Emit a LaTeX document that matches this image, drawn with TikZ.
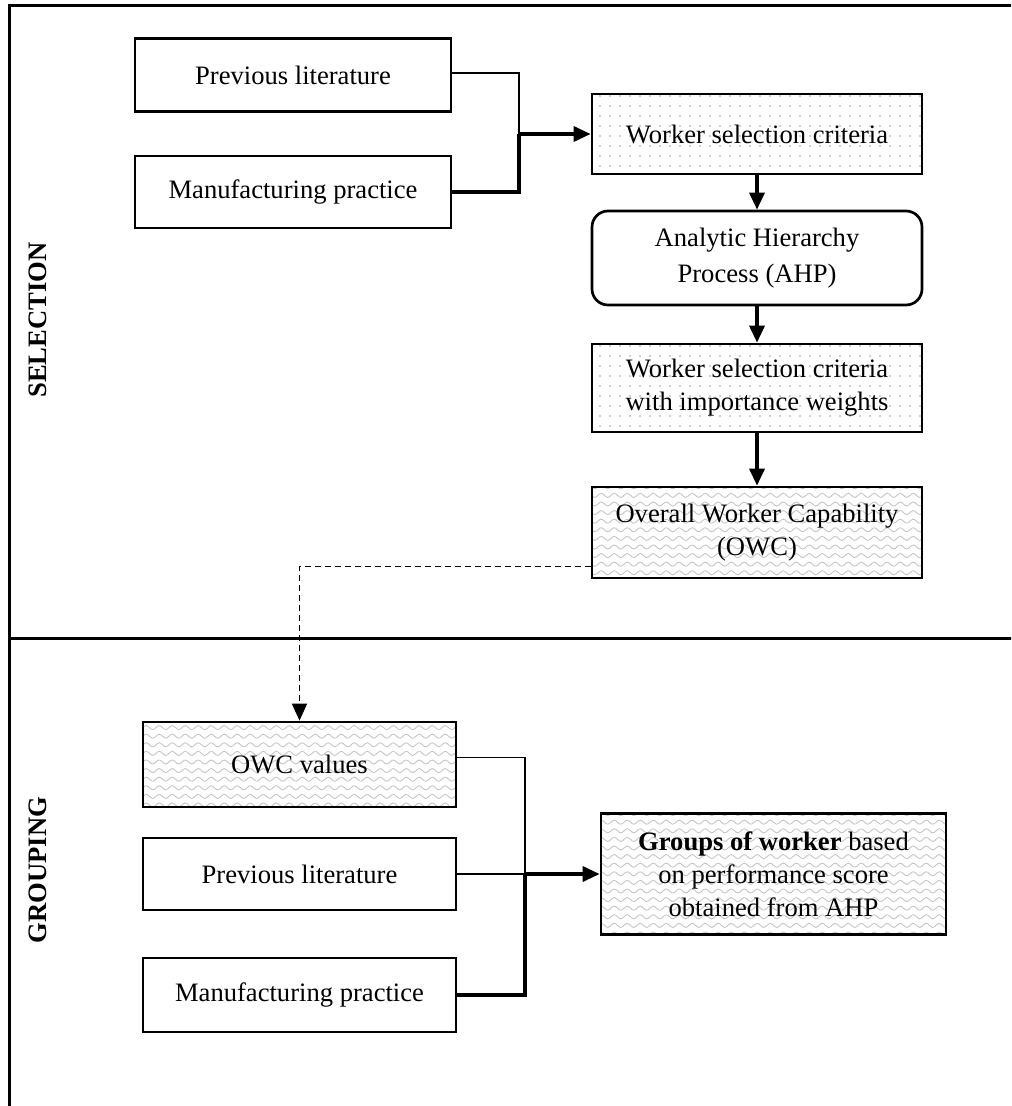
\documentclass[tikz,border=0pt]{standalone}
\usepackage{fontspec}
\setmainfont{Liberation Serif}
\usetikzlibrary{arrows.meta,patterns.meta}

% light wavy fill used for the OWC boxes
\tikzdeclarepattern{
  name=softwaves,
  type=uncolored,
  bottom left={(-0.2pt,-1.6pt)},
  top right={(6.7pt,1.6pt)},
  tile size={(6.5pt,4.3pt)},
  code={\draw[line width=0.45pt] (0pt,0pt) sin (1.625pt,1pt) cos (3.25pt,0pt) sin (4.875pt,-1pt) cos (6.5pt,0pt);}
}

\tikzset{
  box/.style={draw, line width=1.35pt, align=center, inner sep=0pt,
    font=\fontsize{13.3}{16.5}\selectfont},
  wide/.style={minimum width=165pt},
  dotfill/.style={pattern={Dots[radius=0.4pt,distance=5pt]}, pattern color=gray!75},
  wavefill/.style={pattern=softwaves, pattern color=gray!45},
  frameline/.style={line width=1.5pt},
  feeder/.style={line width=0.6pt},
  mainline/.style={line width=1.7pt},
  tip/.style={-{Triangle[length=8.5pt,width=7.5pt]}},
  sidelabel/.style={rotate=90, font=\fontsize{13.3}{16}\selectfont\bfseries}
}

\begin{document}
\begin{tikzpicture}[x=0.5pt,y=-0.5pt]
\useasboundingbox (0,0) rectangle (1011,1106);
\clip (0,0) rectangle (1011,1106);

% outer frame and the divider between the two stages
\draw[frameline] (9,1120) -- (9,6) -- (1030,6);
\draw[frameline] (9,638) -- (1030,638);

\node[sidelabel] (lsel) at (38,320) {SELECTION};
\node[sidelabel] (lgrp) at (38,870) {GROUPING};

% selection stage
\node[box, minimum width=158pt, minimum height=36.5pt] (plTop) at (293,75) {Previous literature};
\node[box, minimum width=158pt, minimum height=36pt] (mpTop) at (293,192) {Manufacturing practice};
\node[box, wide, minimum height=40pt, dotfill] (wsc) at (757,134) {Worker selection criteria};
\node[box, wide, minimum height=47pt, rounded corners=8pt] (ahp) at (757,258)
  {\raisebox{-3pt}{\shortstack{Analytic Hierarchy\\[3pt]Process (AHP)}}};
\node[box, wide, minimum height=44pt, dotfill] (wts) at (757,388) {Worker selection criteria\\with importance weights};
\node[box, wide, minimum height=45.5pt, wavefill] (owc) at (757,532.5) {Overall Worker Capability\\(OWC)};

\coordinate (jt) at (519,134);
\draw[feeder] ([yshift=1pt]plTop.east) -| (jt);
\draw[mainline] (mpTop.east) -| (jt);
\draw[mainline, tip] (jt) -- (wsc.west);
\draw[mainline, tip] (wsc.south) -- (ahp.north);
\draw[mainline, tip] (ahp.south) -- (wts.north);
\draw[mainline, tip] (wts.south) -- (owc.north);

% grouping stage
\node[box, minimum width=156.5pt, minimum height=42.5pt, wavefill] (owcv) at (299.5,764.5) {OWC values};
\node[box, minimum width=156.5pt, minimum height=36pt] (plBot) at (299.5,874) {Previous literature};
\node[box, minimum width=156.5pt, minimum height=37pt] (mpBot) at (299.5,995) {Manufacturing practice};
\node[box, minimum width=172.5pt, minimum height=60.5pt, wavefill] (grp) at (773.5,874)
  {\textbf{Groups of worker} based\\on performance score\\obtained from AHP};

\coordinate (dstart) at ([yshift=-17pt]owc.west);
\draw[line width=0.8pt, dash pattern=on 3pt off 2pt, tip] (dstart) -| (owcv.north);

\coordinate (jb) at (525,874);
\draw[feeder] ([yshift=3.5pt]owcv.east) -| (jb);
\draw[feeder] (plBot.east) -- (jb);
\draw[mainline] (mpBot.east) -| (jb);
\draw[mainline, tip] (jb) -- (grp.west);
\end{tikzpicture}
\end{document}
